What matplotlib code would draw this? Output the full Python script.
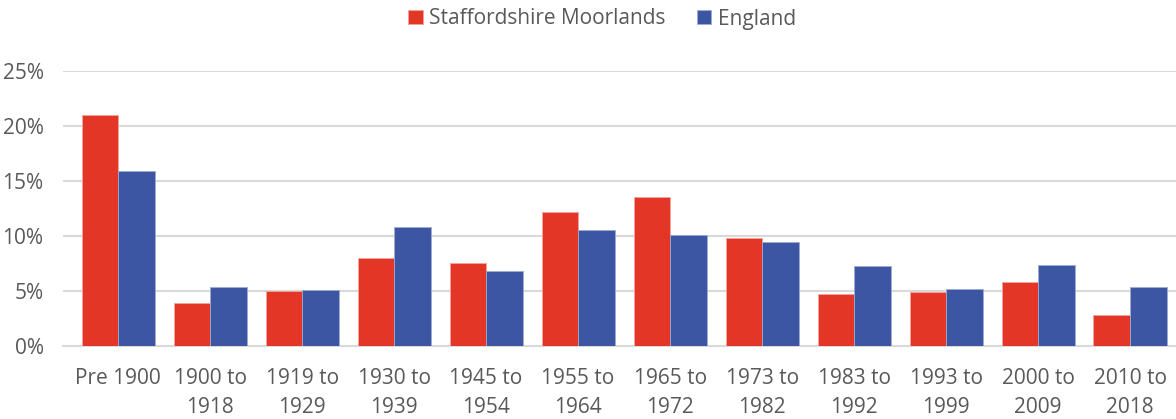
import numpy as np
import matplotlib.pyplot as plt
from matplotlib.ticker import FuncFormatter

# Dwelling age bands
categories = ["Pre 1900", "1900 to\n1918", "1919 to\n1929", "1930 to\n1939",
              "1945 to\n1954", "1955 to\n1964", "1965 to\n1972", "1973 to\n1982",
              "1983 to\n1992", "1993 to\n1999", "2000 to\n2009", "2010 to\n2018"]

# Share of dwellings (%)
staffs_moorlands = [21.0, 3.95, 5.0, 8.0, 7.5, 12.2, 13.5, 9.8, 4.75, 4.9, 5.85, 2.85]
england = [15.9, 5.35, 5.1, 10.8, 6.8, 10.5, 10.1, 9.45, 7.3, 5.2, 7.35, 5.35]

red = "#E33626"
blue = "#3C56A3"
grey_text = "#595959"

plt.rcParams["font.family"] = ["Open Sans", "DejaVu Sans"]

fig = plt.figure(figsize=(11.76, 4.19), dpi=100)
ax = fig.add_axes([63 / 1176, 1 - 346 / 419, 1 - 63 / 1176, (346 - 70.7) / 419])

x = np.arange(len(categories))
w = 0.397
ax.bar(x - w / 2, staffs_moorlands, w, color=red, edgecolor="#F3A49C",
       linewidth=0.6, label="Staffordshire Moorlands", zorder=3)
ax.bar(x + w / 2, england, w, color=blue, edgecolor="#9DAAD3",
       linewidth=0.6, label="England", zorder=3)

ax.set_ylim(0, 25)
ax.set_xlim(-0.6, 11.5)
ax.set_yticks([0, 5, 10, 15, 20, 25])
ax.yaxis.set_major_formatter(FuncFormatter(lambda v, p: f"{v:.0f}%"))
ax.set_xticks(x)
ax.set_xticklabels(categories, linespacing=1.5)
ax.grid(axis="y", color="#D9D9D9", linewidth=1.5, zorder=0)
for s in ["top", "right", "left"]:
    ax.spines[s].set_visible(False)
ax.spines["bottom"].set_color("#D9D9D9")
ax.spines["bottom"].set_linewidth(1.5)
ax.tick_params(axis="both", length=0, colors=grey_text, labelsize=15)
ax.tick_params(axis="x", pad=16)
ax.tick_params(axis="y", pad=14)

fig.legend(loc="center", bbox_to_anchor=(602 / 1176, 1 - 19 / 419), ncol=2,
           frameon=False, fontsize=15, labelcolor=grey_text, handlelength=0.7,
           handleheight=0.7, handletextpad=0.3, columnspacing=1.5)

fig.savefig("out.png", dpi=100)
